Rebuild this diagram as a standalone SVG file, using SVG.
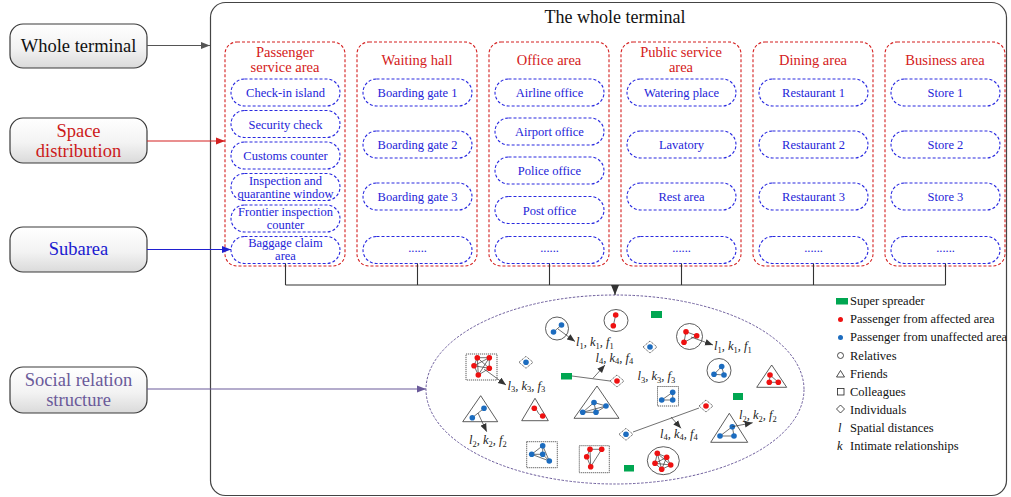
<svg xmlns="http://www.w3.org/2000/svg" width="1011" height="497" viewBox="0 0 1011 497">
<style>
text{font-family:"Liberation Serif","Times New Roman",serif}
.lbl{font-size:18.5px;text-anchor:middle}
.title{font-size:18px;text-anchor:middle;fill:#111}
.col{fill:none;stroke:#d42020;stroke-width:1.1;stroke-dasharray:3 2}
.ctit{font-size:14.5px;fill:#d42020;text-anchor:middle}
.item{fill:#fff;stroke:#2a2ae0;stroke-width:1.1;stroke-dasharray:3 2}
.itxt{font-size:12.5px;fill:#2424d8;text-anchor:middle}
.conn{fill:none;stroke:#333;stroke-width:1.1}
.lnk{stroke:#333;stroke-width:0.7;fill:none}
.shape{fill:none;stroke:#333;stroke-width:0.8}
.dash{fill:none;stroke:#333;stroke-width:0.8;stroke-dasharray:1.2 0.8}
.r{fill:#ee1111}
.b{fill:#1c6cbf}
.g{fill:#00a651}
.lab{font-size:12.5px;font-style:italic;fill:#222}
.sub{font-size:8.5px;font-style:normal}
.leg{font-size:12.5px;fill:#111}
</style>
<defs>
<linearGradient id="gb" x1="0" y1="0" x2="0" y2="1">
<stop offset="0" stop-color="#ffffff"/>
<stop offset="0.55" stop-color="#f3f3f3"/>
<stop offset="1" stop-color="#dadada"/>
</linearGradient>
<marker id="mg" viewBox="0 0 10 10" refX="10" refY="5" markerWidth="9" markerHeight="9" orient="auto" markerUnits="userSpaceOnUse"><path d="M0,1 L10,5 L0,9 z" fill="#555"/></marker>
<marker id="mr" viewBox="0 0 10 10" refX="10" refY="5" markerWidth="9" markerHeight="9" orient="auto" markerUnits="userSpaceOnUse"><path d="M0,1 L10,5 L0,9 z" fill="#d42020"/></marker>
<marker id="mb" viewBox="0 0 10 10" refX="10" refY="5" markerWidth="9" markerHeight="9" orient="auto" markerUnits="userSpaceOnUse"><path d="M0,1 L10,5 L0,9 z" fill="#2020d0"/></marker>
<marker id="mp" viewBox="0 0 10 10" refX="10" refY="5" markerWidth="9" markerHeight="9" orient="auto" markerUnits="userSpaceOnUse"><path d="M0,1 L10,5 L0,9 z" fill="#6a5a9a"/></marker>
<marker id="mk" viewBox="0 0 10 10" refX="10" refY="5" markerWidth="10" markerHeight="10" orient="auto" markerUnits="userSpaceOnUse"><path d="M0,1 L10,5 L0,9 z" fill="#333"/></marker>
<marker id="ms" viewBox="0 0 10 10" refX="10" refY="5" markerWidth="8" markerHeight="8" orient="auto" markerUnits="userSpaceOnUse"><path d="M0,1 L10,5 L0,9 z" fill="#333"/></marker>
</defs>
<rect width="1011" height="497" fill="#fff"/>

<g id="terminal">
<rect x="210.5" y="2.5" width="796" height="493" rx="15" fill="none" stroke="#444" stroke-width="1.2"/>
<text class="title" x="615" y="23">The whole terminal</text>
</g>

<g id="label-whole-terminal">
<rect x="10" y="24" width="137" height="44" rx="13" fill="url(#gb)" stroke="#3a3a3a" stroke-width="1.2"/>
<text class="lbl" x="78.5" y="52" fill="#111">Whole terminal</text>
</g>
<g id="label-space-distribution">
<rect x="10" y="118" width="137" height="45" rx="13" fill="url(#gb)" stroke="#3a3a3a" stroke-width="1.2"/>
<text class="lbl" x="78.5" y="137" fill="#cc1a1a">Space</text>
<text class="lbl" x="78.5" y="157" fill="#cc1a1a">distribution</text>
</g>
<g id="label-subarea">
<rect x="10" y="227" width="137" height="45" rx="13" fill="url(#gb)" stroke="#3a3a3a" stroke-width="1.2"/>
<text class="lbl" x="78.5" y="255" fill="#1a1ad0">Subarea</text>
</g>
<g id="label-social">
<rect x="10" y="367" width="137" height="46" rx="13" fill="url(#gb)" stroke="#3a3a3a" stroke-width="1.2"/>
<text class="lbl" x="78.5" y="386" fill="#6a5a9a">Social relation</text>
<text class="lbl" x="78.5" y="406" fill="#6a5a9a">structure</text>
</g>

<g id="col-passenger">
<rect class="col" x="225" y="42" width="120" height="224" rx="12"/>
<text class="ctit" x="285" y="57">Passenger</text>
<text class="ctit" x="285" y="72">service area</text>
<rect class="item" x="231" y="79" width="109" height="27" rx="13.5"/>
<text class="itxt" x="285.5" y="97">Check-in island</text>
<rect class="item" x="231" y="110.5" width="109" height="27" rx="13.5"/>
<text class="itxt" x="285.5" y="128.5">Security check</text>
<rect class="item" x="231" y="142" width="109" height="27" rx="13.5"/>
<text class="itxt" x="285.5" y="160">Customs counter</text>
<rect class="item" x="231" y="173.5" width="109" height="27" rx="13.5"/>
<text class="itxt" x="285.5" y="184.5">Inspection and</text>
<text class="itxt" x="285.5" y="197.5">quarantine window</text>
<rect class="item" x="231" y="205" width="109" height="27" rx="13.5"/>
<text class="itxt" x="285.5" y="216">Frontier inspection</text>
<text class="itxt" x="285.5" y="229">counter</text>
<rect class="item" x="231" y="236.5" width="109" height="27" rx="13.5"/>
<text class="itxt" x="285.5" y="246.5">Baggage claim</text>
<text class="itxt" x="285.5" y="259.5">area</text>
</g>

<g id="col-waiting">
<rect class="col" x="357" y="42" width="120" height="224" rx="12"/>
<text class="ctit" x="417" y="65">Waiting hall</text>
<rect class="item" x="363" y="79" width="109" height="27" rx="13.5"/>
<text class="itxt" x="417.5" y="97">Boarding gate 1</text>
<rect class="item" x="363" y="131" width="109" height="27" rx="13.5"/>
<text class="itxt" x="417.5" y="149">Boarding gate 2</text>
<rect class="item" x="363" y="183" width="109" height="27" rx="13.5"/>
<text class="itxt" x="417.5" y="201">Boarding gate 3</text>
<rect class="item" x="363" y="236.5" width="109" height="27" rx="13.5"/>
<text class="itxt" x="417.5" y="252">......</text>
</g>

<g id="col-office">
<rect class="col" x="489" y="42" width="120" height="224" rx="12"/>
<text class="ctit" x="549" y="65">Office area</text>
<rect class="item" x="495" y="79" width="109" height="27" rx="13.5"/>
<text class="itxt" x="549.5" y="97">Airline office</text>
<rect class="item" x="495" y="118" width="109" height="27" rx="13.5"/>
<text class="itxt" x="549.5" y="136">Airport office</text>
<rect class="item" x="495" y="157" width="109" height="27" rx="13.5"/>
<text class="itxt" x="549.5" y="175">Police office</text>
<rect class="item" x="495" y="196.5" width="109" height="27" rx="13.5"/>
<text class="itxt" x="549.5" y="214.5">Post office</text>
<rect class="item" x="495" y="236.5" width="109" height="27" rx="13.5"/>
<text class="itxt" x="549.5" y="252">......</text>
</g>

<g id="col-public">
<rect class="col" x="621" y="42" width="120" height="224" rx="12"/>
<text class="ctit" x="681" y="57">Public service</text>
<text class="ctit" x="681" y="72">area</text>
<rect class="item" x="627" y="79" width="109" height="27" rx="13.5"/>
<text class="itxt" x="681.5" y="97">Watering place</text>
<rect class="item" x="627" y="131" width="109" height="27" rx="13.5"/>
<text class="itxt" x="681.5" y="149">Lavatory</text>
<rect class="item" x="627" y="183" width="109" height="27" rx="13.5"/>
<text class="itxt" x="681.5" y="201">Rest area</text>
<rect class="item" x="627" y="236.5" width="109" height="27" rx="13.5"/>
<text class="itxt" x="681.5" y="252">......</text>
</g>

<g id="col-dining">
<rect class="col" x="753" y="42" width="120" height="224" rx="12"/>
<text class="ctit" x="813" y="65">Dining area</text>
<rect class="item" x="759" y="79" width="109" height="27" rx="13.5"/>
<text class="itxt" x="813.5" y="97">Restaurant 1</text>
<rect class="item" x="759" y="131" width="109" height="27" rx="13.5"/>
<text class="itxt" x="813.5" y="149">Restaurant 2</text>
<rect class="item" x="759" y="183" width="109" height="27" rx="13.5"/>
<text class="itxt" x="813.5" y="201">Restaurant 3</text>
<rect class="item" x="759" y="236.5" width="109" height="27" rx="13.5"/>
<text class="itxt" x="813.5" y="252">......</text>
</g>

<g id="col-business">
<rect class="col" x="885" y="42" width="120" height="224" rx="12"/>
<text class="ctit" x="945" y="65">Business area</text>
<rect class="item" x="891" y="79" width="109" height="27" rx="13.5"/>
<text class="itxt" x="945.5" y="97">Store 1</text>
<rect class="item" x="891" y="131" width="109" height="27" rx="13.5"/>
<text class="itxt" x="945.5" y="149">Store 2</text>
<rect class="item" x="891" y="183" width="109" height="27" rx="13.5"/>
<text class="itxt" x="945.5" y="201">Store 3</text>
<rect class="item" x="891" y="236.5" width="109" height="27" rx="13.5"/>
<text class="itxt" x="945.5" y="252">......</text>
</g>

<g id="social-ellipse">
<ellipse cx="615" cy="389.5" rx="189" ry="94.5" fill="none" stroke="#6a5a9a" stroke-width="1" stroke-dasharray="2.5 1.5"/>
</g>

<g id="structures">
<g id="s-relatives-blue">
<circle class="shape" cx="557" cy="328.5" r="11.5"/>
<line class="lnk" x1="553.5" y1="332" x2="561.5" y2="325"/>
<circle class="b" cx="553.5" cy="332" r="2.8"/><circle class="b" cx="561.5" cy="325" r="2.8"/>
</g>
<g id="s-relatives-red">
<ellipse class="shape" cx="616" cy="320.5" rx="12" ry="11"/>
<line class="lnk" x1="615.7" y1="315" x2="613.3" y2="325.7"/>
<circle class="r" cx="615.7" cy="315" r="2.8"/><circle class="r" cx="613.3" cy="325.7" r="2.8"/>
</g>
<rect id="s-spreader-1" class="g" x="651" y="311" width="11" height="7"/>
<g id="s-ind-blue-1">
<polygon class="dash" points="643,347 650,341 657,347 650,353"/>
<circle class="b" cx="650" cy="347" r="2.8"/>
</g>
<g id="s-relatives-red3">
<circle class="shape" cx="689.5" cy="336.5" r="13"/>
<polyline class="lnk" points="686,331.7 696.7,335.7 684,342.3 686,331.7"/>
<circle class="r" cx="686" cy="331.7" r="2.8"/><circle class="r" cx="696.7" cy="335.7" r="2.8"/><circle class="r" cx="684" cy="342.3" r="2.8"/>
</g>
<g id="s-relatives-blue3">
<circle class="shape" cx="719" cy="370.5" r="12"/>
<polyline class="lnk" points="721.7,366.5 714,374.3 724,375 721.7,366.5"/>
<circle class="b" cx="721.7" cy="366.5" r="2.8"/><circle class="b" cx="714" cy="374.3" r="2.8"/><circle class="b" cx="724" cy="375" r="2.8"/>
</g>
<g id="s-friends-red3">
<polygon class="shape" points="771.7,365 756.7,387.3 786.7,387.3"/>
<polyline class="lnk" points="770,375 769.3,382.3 778.3,382.3 770,375"/>
<circle class="r" cx="770" cy="375" r="2.8"/><circle class="r" cx="769.3" cy="382.3" r="2.8"/><circle class="r" cx="778.3" cy="382.3" r="2.8"/>
</g>
<rect id="s-spreader-2" class="g" x="733" y="393" width="10" height="7"/>
<g id="s-colleagues-blue3">
<rect class="dash" x="657.5" y="386.5" width="21" height="19.5"/>
<polyline class="lnk" points="672.7,392.3 661.7,400 672.7,400 672.7,392.3"/>
<circle class="b" cx="672.7" cy="392.3" r="2.8"/><circle class="b" cx="661.7" cy="400" r="2.8"/><circle class="b" cx="672.7" cy="400" r="2.8"/>
</g>
<g id="s-ind-red-1">
<polygon class="dash" points="699,406 706,400 713,406 706,412"/>
<circle class="r" cx="706" cy="406" r="2.8"/>
</g>
<g id="s-ind-blue-2">
<polygon class="dash" points="619,434.3 626,428.3 633,434.3 626,440.3"/>
<circle class="b" cx="626" cy="434.3" r="2.8"/>
</g>
<g id="s-friends-blue3">
<polygon class="shape" points="729.3,413.3 710.7,442.3 747.7,442.3"/>
<polyline class="lnk" points="732.3,426.7 720,436 734,436 732.3,426.7"/>
<circle class="b" cx="732.3" cy="426.7" r="2.8"/><circle class="b" cx="720" cy="436" r="2.8"/><circle class="b" cx="734" cy="436" r="2.8"/>
</g>
<g id="s-relatives-red5">
<ellipse class="shape" cx="663.3" cy="460.7" rx="16" ry="14"/>
<path class="lnk" d="M657.3,453.3 L666.7,457.3 L670.7,465 L661.7,469.3 L655,463.3 Z M657.3,453.3 L670.7,465 M657.3,453.3 L661.7,469.3 M666.7,457.3 L655,463.3 M666.7,457.3 L661.7,469.3 M655,463.3 L670.7,465"/>
<circle class="r" cx="657.3" cy="453.3" r="2.8"/><circle class="r" cx="666.7" cy="457.3" r="2.8"/><circle class="r" cx="655" cy="463.3" r="2.8"/><circle class="r" cx="670.7" cy="465" r="2.8"/><circle class="r" cx="661.7" cy="469.3" r="2.8"/>
</g>
<rect id="s-spreader-3" class="g" x="624" y="465" width="10" height="6.5"/>
<rect id="s-spreader-4" class="g" x="561" y="373" width="11" height="6.5"/>
<g id="s-ind-red-2">
<polygon class="dash" points="610,381 617,375 624,381 617,387"/>
<circle class="r" cx="617" cy="381" r="2.8"/>
</g>
<g id="s-colleagues-red5">
<rect class="dash" x="466" y="354" width="31" height="26"/>
<path class="lnk" d="M477.3,357.7 L489.3,357.7 L489.3,368.3 L478.3,375 L474,365.7 Z M477.3,357.7 L489.3,368.3 M477.3,357.7 L478.3,375 M489.3,357.7 L474,365.7 M489.3,357.7 L478.3,375 M474,365.7 L489.3,368.3"/>
<circle class="r" cx="477.3" cy="357.7" r="2.8"/><circle class="r" cx="489.3" cy="357.7" r="2.8"/><circle class="r" cx="474" cy="365.7" r="2.8"/><circle class="r" cx="489.3" cy="368.3" r="2.8"/><circle class="r" cx="478.3" cy="375" r="2.8"/>
</g>
<g id="s-ind-blue-3">
<polygon class="dash" points="519,362.3 526,356.3 533,362.3 526,368.3"/>
<circle class="b" cx="526" cy="362.3" r="2.8"/>
</g>
<g id="s-friends-blue2">
<polygon class="shape" points="480.7,395.7 462.7,421.7 497.7,421.7"/>
<line class="lnk" x1="484" y1="408.3" x2="472.3" y2="417.7"/>
<circle class="b" cx="484" cy="408.3" r="2.8"/><circle class="b" cx="472.3" cy="417.7" r="2.8"/>
</g>
<g id="s-friends-red2">
<polygon class="shape" points="535,398.3 521.7,420.7 548.3,420.7"/>
<path class="lnk" d="M534.3,408.3 C538,409 537,415 542.7,416"/>
<circle class="r" cx="534.3" cy="408.3" r="2.8"/><circle class="r" cx="542.7" cy="416" r="2.8"/>
</g>
<g id="s-friends-blue4">
<polygon class="shape" points="597,386 574,418.3 619,418.3"/>
<path class="lnk" d="M594,402.5 L606,406 L596,412.3 L582.7,412.3 Z M594,402.5 L596,412.3 M582.7,412.3 L606,406"/>
<circle class="b" cx="594" cy="402.5" r="2.8"/><circle class="b" cx="606" cy="406" r="2.8"/><circle class="b" cx="582.7" cy="412.3" r="2.8"/><circle class="b" cx="596" cy="412.3" r="2.8"/>
</g>
<g id="s-colleagues-blue4">
<rect class="dash" x="526.7" y="441.7" width="30.6" height="26"/>
<path class="lnk" d="M542.7,445.7 L531.7,454.3 L542.7,454.3 Z M542.7,454.3 L549.3,461 L531.7,454.3 M542.7,445.7 L549.3,461"/>
<circle class="b" cx="542.7" cy="445.7" r="2.8"/><circle class="b" cx="531.7" cy="454.3" r="2.8"/><circle class="b" cx="542.7" cy="454.3" r="2.8"/><circle class="b" cx="549.3" cy="461" r="2.8"/>
</g>
<g id="s-colleagues-red4">
<rect class="dash" x="579.3" y="445.7" width="30" height="27"/>
<path class="lnk" d="M590,449.3 L601.7,449.3 L590.7,466.7 L586.7,456.7 Z M590,449.3 L590.7,466.7"/>
<circle class="r" cx="590" cy="449.3" r="2.8"/><circle class="r" cx="601.7" cy="449.3" r="2.8"/><circle class="r" cx="586.7" cy="456.7" r="2.8"/><circle class="r" cx="590.7" cy="466.7" r="2.8"/>
</g>
</g>

<g id="connectors">
<line x1="147" y1="45.5" x2="210" y2="45.5" stroke="#555" stroke-width="1.1" marker-end="url(#mg)"/>
<line x1="147" y1="141" x2="225" y2="141" stroke="#d42020" stroke-width="1.1" marker-end="url(#mr)"/>
<line x1="147" y1="249.5" x2="231" y2="249.5" stroke="#2020d0" stroke-width="1.1" marker-end="url(#mb)"/>
<line x1="147" y1="389" x2="426" y2="389" stroke="#6a5a9a" stroke-width="1.1" marker-end="url(#mp)"/>
<path class="conn" d="M285.5,263.5 V285 M417.5,263.5 V285 M549.5,263.5 V285 M681.5,263.5 V285 M813.5,263.5 V285 M945.5,263.5 V285 M285.5,285 H945.5"/>
<line class="conn" x1="615" y1="285" x2="615" y2="295" marker-end="url(#mk)"/>
<line class="lnk" x1="558" y1="329" x2="575" y2="341.5" marker-end="url(#ms)"/>
<line class="lnk" x1="691" y1="337" x2="713" y2="345" marker-end="url(#ms)"/>
<line class="lnk" x1="484" y1="369" x2="506" y2="385" marker-end="url(#ms)"/>
<line class="lnk" x1="572" y1="376" x2="610" y2="381"/>
<line class="lnk" x1="593" y1="378.3" x2="605" y2="365" marker-end="url(#ms)"/>
<line class="lnk" x1="633" y1="432" x2="699" y2="408"/>
<line class="lnk" x1="671" y1="417" x2="681" y2="428.3" marker-end="url(#ms)"/>
<line class="lnk" x1="732.3" y1="426.7" x2="752.7" y2="422.7" marker-end="url(#ms)"/>
<line class="lnk" x1="478" y1="413" x2="486.7" y2="431.7" marker-end="url(#ms)"/>
</g>

<g id="labels">
<text class="lab" x="576" y="346">l<tspan class="sub" dy="2.5">1</tspan><tspan dy="-2.5">, k</tspan><tspan class="sub" dy="2.5">1</tspan><tspan dy="-2.5">, f</tspan><tspan class="sub" dy="2.5">1</tspan></text>
<text class="lab" x="714" y="350">l<tspan class="sub" dy="2.5">1</tspan><tspan dy="-2.5">, k</tspan><tspan class="sub" dy="2.5">1</tspan><tspan dy="-2.5">, f</tspan><tspan class="sub" dy="2.5">1</tspan></text>
<text class="lab" x="507.5" y="389.5">l<tspan class="sub" dy="2.5">3</tspan><tspan dy="-2.5">, k</tspan><tspan class="sub" dy="2.5">3</tspan><tspan dy="-2.5">, f</tspan><tspan class="sub" dy="2.5">3</tspan></text>
<text class="lab" x="637.5" y="380">l<tspan class="sub" dy="2.5">3</tspan><tspan dy="-2.5">, k</tspan><tspan class="sub" dy="2.5">3</tspan><tspan dy="-2.5">, f</tspan><tspan class="sub" dy="2.5">3</tspan></text>
<text class="lab" x="595.5" y="361.5">l<tspan class="sub" dy="2.5">4</tspan><tspan dy="-2.5">, k</tspan><tspan class="sub" dy="2.5">4</tspan><tspan dy="-2.5">, f</tspan><tspan class="sub" dy="2.5">4</tspan></text>
<text class="lab" x="660" y="437.5">l<tspan class="sub" dy="2.5">4</tspan><tspan dy="-2.5">, k</tspan><tspan class="sub" dy="2.5">4</tspan><tspan dy="-2.5">, f</tspan><tspan class="sub" dy="2.5">4</tspan></text>
<text class="lab" x="739" y="419">l<tspan class="sub" dy="2.5">2</tspan><tspan dy="-2.5">, k</tspan><tspan class="sub" dy="2.5">2</tspan><tspan dy="-2.5">, f</tspan><tspan class="sub" dy="2.5">2</tspan></text>
<text class="lab" x="469" y="444">l<tspan class="sub" dy="2.5">2</tspan><tspan dy="-2.5">, k</tspan><tspan class="sub" dy="2.5">2</tspan><tspan dy="-2.5">, f</tspan><tspan class="sub" dy="2.5">2</tspan></text>
</g>

<g id="legend">
<rect class="g" x="836" y="298" width="12" height="6.5"/>
<text class="leg" x="850" y="305">Super spreader</text>
<circle class="r" cx="840.5" cy="319.5" r="2.5"/>
<text class="leg" x="850" y="323">Passenger from affected area</text>
<circle class="b" cx="840.5" cy="337.5" r="2.5"/>
<text class="leg" x="850" y="341">Passenger from unaffected area</text>
<circle cx="840.5" cy="355.5" r="3" fill="none" stroke="#222" stroke-width="0.8"/>
<text class="leg" x="850" y="359.5">Relatives</text>
<polygon points="840.5,370.5 836.5,377 844.5,377" fill="none" stroke="#222" stroke-width="0.8"/>
<text class="leg" x="850" y="377.5">Friends</text>
<rect x="837.5" y="388.5" width="6.5" height="6.5" fill="none" stroke="#222" stroke-width="0.8"/>
<text class="leg" x="850" y="395.5">Colleagues</text>
<polygon points="836.5,409 840.5,405 844.5,409 840.5,413" fill="none" stroke="#222" stroke-width="0.8"/>
<text class="leg" x="850" y="413.5">Individuals</text>
<text class="leg" x="838" y="431.5" font-style="italic">l</text>
<text class="leg" x="850" y="431.5">Spatial distances</text>
<text class="leg" x="837" y="450" font-style="italic">k</text>
<text class="leg" x="850" y="450">Intimate relationships</text>
</g>
</svg>
